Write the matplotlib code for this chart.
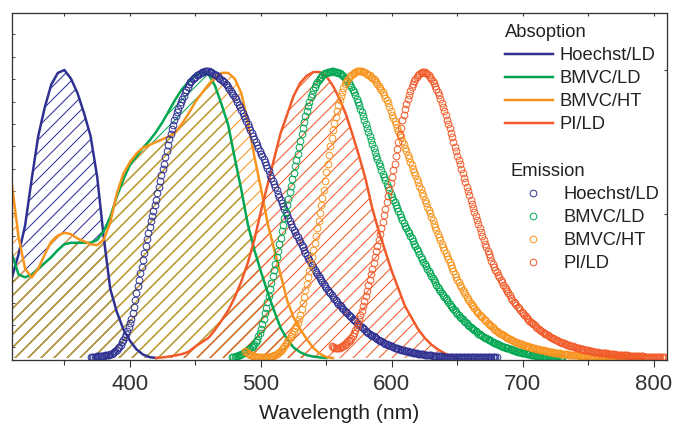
import numpy as np
import matplotlib
matplotlib.use('Agg')
import matplotlib.pyplot as plt
from matplotlib.ticker import MultipleLocator
from matplotlib.collections import LineCollection
from matplotlib.transforms import IdentityTransform

plt.rcParams['font.family'] = ['Liberation Sans', 'DejaVu Sans']

names = ['Hoechst/LD', 'BMVC/LD', 'BMVC/HT', 'PI/LD']
colors = ['#2e3192', '#00a651', '#f7941d', '#f15a29']
overlap_color = '#c8952e'

# absorption spectra (normalised), 5 nm steps
hoechst_abs_x = np.arange(310, 421, 5)
hoechst_abs = [0.28, 0.36, 0.46, 0.62, 0.77, 0.87, 0.95, 0.99, 1.00,
               0.97, 0.92, 0.85, 0.77,
               0.63, 0.42, 0.24, 0.16, 0.10, 0.06, 0.03, 0.012, 0.003, 0.0]

bmvc_ld_abs_x = np.arange(310, 551, 5)
bmvc_ld_abs = [0.36, 0.29, 0.28, 0.29, 0.31, 0.33, 0.35, 0.375, 0.395,
               0.40, 0.40, 0.40, 0.40, 0.41, 0.44, 0.49, 0.56, 0.62, 0.67,
               0.70, 0.73, 0.755, 0.785, 0.82, 0.86, 0.90, 0.935, 0.96, 0.98,
               0.993, 0.985, 0.945, 0.88, 0.81, 0.695, 0.585, 0.465, 0.375, 0.30,
               0.23, 0.165, 0.105, 0.065, 0.036, 0.02, 0.01, 0.005, 0.002, 0.0]

bmvc_ht_abs_x = np.arange(310, 556, 5)
bmvc_ht_abs = [0.60, 0.42, 0.31, 0.28, 0.31, 0.36, 0.405, 0.425, 0.435,
               0.43, 0.415, 0.405, 0.395, 0.392, 0.41, 0.47, 0.57, 0.64, 0.68,
               0.71, 0.73, 0.74, 0.75, 0.76, 0.77, 0.785, 0.815, 0.85, 0.89,
               0.92, 0.95, 0.975, 0.99, 0.99, 0.97, 0.92, 0.82, 0.70, 0.59,
               0.47, 0.38, 0.29, 0.20, 0.14, 0.10, 0.065, 0.035, 0.015, 0.003,
               0.0]

pi_abs_x = np.arange(420, 651, 5)
pi_abs = [0.0, 0.002, 0.005, 0.009, 0.014, 0.022, 0.04, 0.055, 0.07, 0.098, 0.13,
          0.165, 0.21, 0.265, 0.33, 0.41, 0.51, 0.60, 0.69, 0.78, 0.845,
          0.91, 0.955, 0.98, 0.993, 0.993, 0.978, 0.945, 0.90, 0.845, 0.775,
          0.70, 0.62, 0.52, 0.44, 0.37, 0.30, 0.24, 0.18, 0.14, 0.10,
          0.07, 0.047, 0.03, 0.017, 0.006, 0.0]

# emission spectra (normalised), 1 nm steps from the start wavelength
hoechst_em_start = 370
hoechst_em = [
    .005, .005, .005, .005, .005, .006, .006, .006, .007, .007,
    .008, .009, .010, .011, .012, .013, .015, .017, .020, .024,
    .028, .033, .038, .046, .055, .064, .073, .084, .095, .107,
    .120, .137, .155, .177, .200, .225, .250, .272, .295, .317,
    .340, .365, .390, .412, .435, .455, .475, .492, .510, .530,
    .550, .572, .595, .615, .635, .655, .675, .697, .720, .740,
    .760, .778, .795, .810, .825, .839, .853, .866, .878, .889,
    .900, .911, .922, .932, .942, .950, .957, .963, .968, .973,
    .977, .981, .984, .987, .990, .992, .994, .995, .996, .996,
    .995, .994, .992, .990, .987, .984, .981, .978, .974, .970,
    .966, .962, .957, .952, .947, .941, .935, .928, .921, .914,
    .906, .898, .889, .880, .871, .862, .852, .842, .832, .822,
    .812, .802, .792, .782, .771, .761, .750, .740, .730, .720,
    .710, .700, .690, .680, .670, .659, .648, .637, .626, .615,
    .604, .593, .582, .571, .560, .549, .538, .527, .516, .505,
    .495, .485, .475, .465, .455, .446, .437, .428, .420, .411,
    .402, .393, .384, .375, .366, .357, .348, .339, .331, .323,
    .315, .307, .299, .291, .284, .277, .270, .263, .256, .249,
    .243, .236, .230, .224, .218, .212, .206, .200, .195, .189,
    .184, .179, .174, .169, .164, .159, .155, .150, .146, .141,
    .137, .132, .128, .123, .119, .115, .111, .107, .103, .099,
    .095, .091, .088, .084, .081, .078, .075, .072, .069, .066,
    .063, .060, .058, .055, .053, .050, .048, .046, .044, .042,
    .040, .038, .036, .034, .033, .031, .030, .028, .027, .026,
    .025, .024, .023, .022, .021, .020, .019, .018, .017, .016,
    .015, .014, .014, .013, .013, .012, .011, .010, .010, .009,
    .009, .008, .008, .007, .007, .007, .007, .006, .006, .005,
    .005, .005, .005, .004, .004, .004, .004, .004, .004, .003,
    .003, .003, .003, .003, .003, .003, .003, .003, .003, .003,
    .003, .003, .002, .002, .002, .002, .002, .002, .002, .002,
    .002, .002, .002, .002, .002, .002, .002, .002, .002, .002, .002]

bmvc_ld_em_start = 478
bmvc_ld_em = [
    .003, .004, .005, .006, .008, .010, .012, .014, .017, .019,
    .022, .025, .028, .031, .034, .038, .042, .048, .055, .064,
    .075, .087, .100, .117, .135, .155, .175, .195, .215, .238,
    .260, .283, .305, .328, .350, .373, .395, .418, .440, .463,
    .485, .508, .530, .553, .575, .598, .620, .643, .665, .688,
    .710, .733, .755, .778, .800, .820, .840, .858, .875, .890,
    .905, .918, .930, .940, .950, .958, .965, .971, .977, .981,
    .985, .988, .990, .992, .993, .994, .995, .995, .994, .993,
    .992, .990, .988, .985, .982, .978, .973, .968, .962, .955,
    .948, .940, .932, .922, .912, .901, .890, .878, .865, .853,
    .840, .826, .812, .799, .785, .771, .757, .744, .730, .717,
    .703, .690, .677, .665, .652, .640, .628, .617, .605, .594,
    .582, .571, .560, .550, .540, .530, .520, .510, .500, .490,
    .480, .470, .460, .451, .442, .433, .424, .415, .406, .397,
    .388, .379, .370, .361, .352, .344, .335, .327, .318, .310,
    .302, .294, .286, .278, .270, .263, .255, .248, .240, .233,
    .226, .220, .213, .207, .200, .194, .188, .182, .176, .171,
    .165, .160, .154, .149, .144, .139, .134, .130, .125, .121,
    .116, .112, .107, .103, .099, .096, .092, .089, .085, .082,
    .079, .076, .073, .071, .068, .066, .063, .061, .058, .056,
    .053, .051, .049, .047, .045, .043, .041, .039, .037, .036,
    .034, .033, .031, .030, .028, .027, .025, .024, .022, .021,
    .020, .019, .018, .017, .016, .015, .014, .013, .012, .011,
    .010, .009, .008, .008, .007, .006, .005, .005, .004, .004,
    .003, .003, .002, .002, .002, .002, .001, .001, .001, .001,
    .001, .001, .001]

bmvc_ht_em_start = 488
bmvc_ht_em = [
    .025, .021, .018, .015, .012, .010, .008, .006, .005, .004,
    .004, .003, .003, .003, .003, .003, .003, .003, .004, .005,
    .006, .008, .010, .012, .015, .018, .021, .025, .030, .036,
    .042, .048, .055, .062, .070, .077, .085, .094, .103, .111,
    .120, .135, .150, .170, .190, .212, .235, .257, .280, .302,
    .325, .350, .375, .400, .425, .450, .475, .502, .530, .557,
    .585, .615, .645, .675, .705, .735, .765, .790, .815, .837,
    .858, .877, .895, .910, .925, .938, .950, .959, .967, .973,
    .978, .983, .987, .990, .993, .995, .996, .996, .996, .995,
    .994, .992, .990, .987, .984, .981, .977, .973, .969, .964,
    .958, .952, .945, .938, .930, .922, .913, .904, .895, .884,
    .872, .859, .845, .833, .822, .811, .800, .789, .777, .766,
    .754, .742, .730, .718, .706, .694, .682, .670, .658, .646,
    .634, .622, .610, .598, .586, .574, .562, .550, .538, .526,
    .514, .502, .490, .478, .466, .455, .443, .432, .420, .408,
    .397, .386, .375, .364, .353, .343, .332, .322, .311, .301,
    .291, .281, .272, .263, .254, .245, .237, .229, .221, .213,
    .206, .199, .192, .185, .179, .173, .167, .161, .156, .151,
    .146, .141, .136, .131, .127, .122, .118, .114, .110, .106,
    .102, .098, .095, .091, .088, .085, .082, .079, .076, .073,
    .071, .068, .066, .063, .061, .059, .057, .055, .053, .051,
    .049, .047, .046, .044, .043, .041, .040, .038, .037, .035,
    .034, .033, .032, .031, .030, .029, .028, .027, .026, .025,
    .024, .023, .022, .021, .021, .020, .019, .018, .018, .017,
    .016, .015, .015, .014, .014, .013, .013, .012, .012, .011,
    .011, .010, .010, .009, .009, .008, .008, .007, .007, .007,
    .007, .006, .006, .005, .005, .005, .005, .004, .004, .004,
    .004, .004, .004, .003, .003, .003, .003, .003, .003, .003,
    .003, .002, .002, .002, .002, .002, .002, .002, .002, .002,
    .002, .002, .002, .001, .001, .001, .001, .001, .001, .001,
    .001, .001, .001]

pi_em_start = 554
pi_em = [
    .040, .038, .036, .035, .034, .034, .035, .037, .040, .043,
    .046, .050, .054, .059, .064, .071, .078, .087, .096, .108,
    .120, .134, .148, .164, .180, .197, .215, .233, .252, .271,
    .290, .310, .330, .350, .370, .390, .410, .430, .450, .472,
    .495, .517, .540, .562, .585, .607, .630, .652, .675, .700,
    .725, .750, .775, .800, .825, .845, .865, .883, .900, .914,
    .928, .940, .952, .961, .970, .977, .983, .987, .991, .993,
    .994, .993, .990, .986, .982, .976, .970, .963, .955, .945,
    .935, .924, .912, .899, .886, .872, .858, .843, .828, .813,
    .798, .782, .766, .750, .734, .718, .703, .687, .672, .656,
    .641, .625, .610, .595, .580, .565, .550, .535, .520, .506,
    .492, .478, .464, .450, .437, .423, .410, .397, .385, .373,
    .361, .349, .338, .327, .316, .307, .298, .289, .280, .271,
    .263, .255, .247, .239, .232, .224, .217, .210, .203, .196,
    .190, .184, .178, .172, .166, .160, .155, .150, .145, .140,
    .135, .130, .126, .121, .117, .113, .109, .105, .101, .097,
    .094, .091, .088, .085, .082, .079, .076, .073, .071, .068,
    .066, .063, .061, .059, .057, .055, .053, .051, .049, .047,
    .046, .044, .043, .041, .040, .038, .037, .036, .035, .033,
    .032, .031, .030, .029, .028, .027, .026, .025, .024, .023,
    .022, .021, .021, .020, .019, .018, .018, .017, .017, .016,
    .016, .015, .015, .014, .014, .013, .013, .012, .012, .011,
    .011, .010, .010, .009, .009, .009, .009, .008, .008, .008,
    .008, .007, .007, .007, .007, .006, .006, .006, .006, .005,
    .005, .005, .005, .004, .004, .004, .004, .004, .004, .003,
    .003, .003, .003, .003, .003]

abs_data = [(hoechst_abs_x, hoechst_abs), (bmvc_ld_abs_x, bmvc_ld_abs),
            (bmvc_ht_abs_x, bmvc_ht_abs), (pi_abs_x, pi_abs)]
em_data = [(hoechst_em_start, hoechst_em), (bmvc_ld_em_start, bmvc_ld_em),
           (bmvc_ht_em_start, bmvc_ht_em), (pi_em_start, pi_em)]

fig = plt.figure(figsize=(674 / 78, 425 / 78), dpi=78)
ax = fig.add_axes([12 / 674, 65 / 425, 655 / 674, 347 / 425])


def hatch_under(x, y, color, spacing=13):
    # diagonal lines in pixel space, clipped to the area under the curve
    area = ax.fill_between(x, y, 0, facecolor='none', linewidth=0)
    segs = [[(c, 0), (c + 700, 700)] for c in np.arange(-702, 700, spacing)]
    lc = LineCollection(segs, colors=color, linewidths=0.95,
                        transform=IdentityTransform())
    ax.add_collection(lc, autolim=False)
    lc.set_clip_path(area.get_paths()[0], area.get_transform())


for (x, y), c in zip(abs_data[:3], colors[:3]):
    hatch_under(x, y, c)
# where the two BMVC areas overlap the hatch looks golden
both = np.minimum(bmvc_ld_abs, bmvc_ht_abs[:len(bmvc_ld_abs)])
hatch_under(bmvc_ld_abs_x, both, overlap_color)
hatch_under(pi_abs_x, pi_abs, colors[3])

abs_lines = []
for (x, y), c, n in zip(abs_data, colors, names):
    line, = ax.plot(x, y, color=c, lw=2.3, label=n)
    abs_lines.append(line)

em_lines = []
for (x0, y), c, n in zip(em_data, colors, names):
    x = x0 + np.arange(len(y))
    pts, = ax.plot(x, y, 'o', mfc='none', mec=c, ms=6.2, mew=0.9, label=n)
    em_lines.append(pts)

ax.set_xlim(310, 810)
ax.set_ylim(-0.007, 1.198)
ax.xaxis.set_major_locator(MultipleLocator(100))
ax.xaxis.set_minor_locator(MultipleLocator(50))
ax.set_yticks(0.037 + 0.0776 * np.arange(15))
ax.set_yticklabels([])
ax.tick_params(axis='x', which='major', direction='out', length=6, width=1,
               labelsize=20.5, pad=7, colors='#333333')
ax.tick_params(axis='x', which='minor', direction='out', length=4.5, width=1,
               colors='#333333')
ax.tick_params(axis='y', direction='in', length=2.5, width=0.8, colors='#333333')
for s in ax.spines.values():
    s.set_linewidth(1.2)
    s.set_color('#333333')

top = ax.secondary_xaxis('top')
top.xaxis.set_major_locator(MultipleLocator(50))
top.tick_params(direction='in', length=3, width=1, colors='#333333')
top.set_xticklabels([])
right = ax.secondary_yaxis('right')
right.set_yticks([0.5, 1.0])
right.tick_params(direction='in', length=3, width=1, colors='#333333')
right.set_yticklabels([])

ax.set_xlabel('Wavelength (nm)', fontsize=19.5, labelpad=8, color='#222222')

leg_kw = dict(loc='upper left', bbox_transform=fig.transFigure, frameon=False,
              fontsize=17, title_fontsize=17, handletextpad=0.38,
              labelspacing=0.33, borderpad=0, borderaxespad=0, alignment='left')
leg1 = ax.legend(handles=abs_lines, title='Absoption', handlelength=2.6,
                 bbox_to_anchor=(505 / 674, 1 - 24 / 425), **leg_kw)
ax.add_artist(leg1)
leg2 = ax.legend(handles=em_lines, title='Emission', handlelength=2.5,
                 bbox_to_anchor=(510 / 674, 1 - 163 / 425), **leg_kw)
for leg in (leg1, leg2):
    for t in leg.get_texts():
        t.set_color('#222222')
    leg.get_title().set_color('#222222')

fig.savefig('out.png', dpi=78)
